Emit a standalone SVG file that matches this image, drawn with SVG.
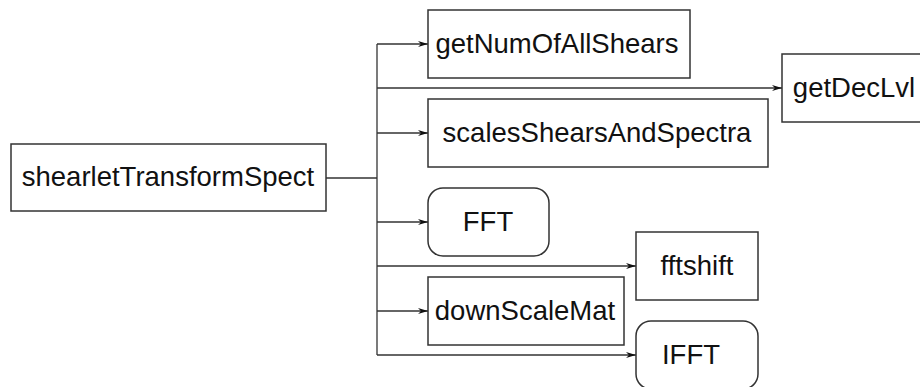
<svg xmlns="http://www.w3.org/2000/svg" width="920" height="387" viewBox="0 0 920 387">
<defs>
<marker id="arr" viewBox="0 0 10 6" refX="10" refY="3" markerWidth="10" markerHeight="6" markerUnits="userSpaceOnUse" orient="auto">
<path d="M0,0 L10,3 L0,6 L3,3 Z" fill="#111"/>
</marker>
</defs>
<style>
.box{fill:#fff;stroke:#333;stroke-width:1.5}
.lbl{font-family:"Liberation Sans",Arial,sans-serif;font-size:27.5px;fill:#111;text-anchor:middle}
.edge{fill:none;stroke:#333;stroke-width:1.3}
</style>
<rect width="920" height="387" fill="#fff"/>
<g id="connectors">
<path class="edge" d="M326,178 H377"/>
<path class="edge" d="M377,44 V355"/>
<path class="edge" d="M377,44 H428" marker-end="url(#arr)"/>
<path class="edge" d="M377,88 H782" marker-end="url(#arr)"/>
<path class="edge" d="M377,133 H428" marker-end="url(#arr)"/>
<path class="edge" d="M377,222 H428" marker-end="url(#arr)"/>
<path class="edge" d="M377,266 H636" marker-end="url(#arr)"/>
<path class="edge" d="M377,311 H428" marker-end="url(#arr)"/>
<path class="edge" d="M377,355 H636" marker-end="url(#arr)"/>
</g>
<g id="shearletTransformSpect">
<rect class="box" x="11" y="144" width="315" height="67"/>
<text class="lbl" x="168" y="186">shearletTransformSpect</text>
</g>
<g id="getNumOfAllShears">
<rect class="box" x="428" y="10" width="262" height="68"/>
<text class="lbl" x="557" y="53">getNumOfAllShears</text>
</g>
<g id="getDecLvl">
<rect class="box" x="782" y="54" width="150" height="68"/>
<text class="lbl" x="854" y="97">getDecLvl</text>
</g>
<g id="scalesShearsAndSpectra">
<rect class="box" x="428" y="99" width="340" height="68"/>
<text class="lbl" x="597" y="142">scalesShearsAndSpectra</text>
</g>
<g id="FFT">
<rect class="box" x="428" y="188" width="121" height="68" rx="15" ry="15"/>
<text class="lbl" x="488" y="231">FFT</text>
</g>
<g id="fftshift">
<rect class="box" x="636" y="232" width="122" height="68"/>
<text class="lbl" x="697" y="275">fftshift</text>
</g>
<g id="downScaleMat">
<rect class="box" x="428" y="277" width="196" height="68"/>
<text class="lbl" x="525" y="320">downScaleMat</text>
</g>
<g id="IFFT">
<rect class="box" x="636" y="321" width="122" height="68" rx="15" ry="15"/>
<text class="lbl" x="691" y="364">IFFT</text>
</g>
</svg>
